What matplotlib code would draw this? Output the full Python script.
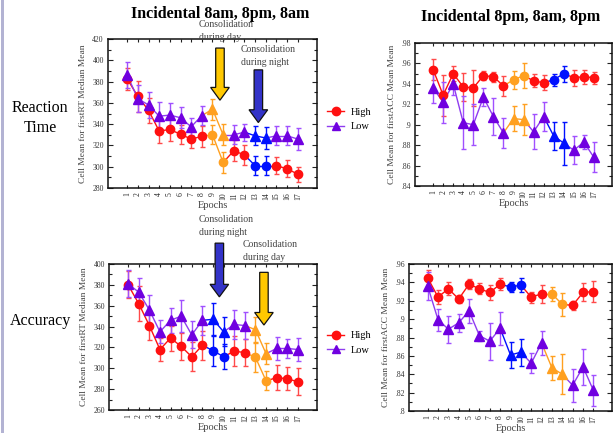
import matplotlib
matplotlib.use("Agg")
import matplotlib.pyplot as plt
import numpy as np
from matplotlib.patches import FancyArrow, Rectangle
from matplotlib.ticker import AutoMinorLocator, FuncFormatter, MultipleLocator
from matplotlib.lines import Line2D

plt.rcParams['font.family'] = ['Liberation Serif', 'DejaVu Serif']

epochs = list(range(1, 18))

# ---- Panel A: Incidental 8am, 8pm, 8am (Reaction time)
rt1_high = [382.5, 366, 353, 333.5, 335, 330.5, 326, 328.5, 330, 304, 315, 311, 301, 301, 301, 298, 293]
rt1_high_err = [10, 15, 12, 11, 11, 9, 8, 10, 9, 10, 10, 9, 9, 9, 8, 8, 7]
rt1_low = [386, 364, 358, 347.5, 348.5, 346, 337.5, 348, 354, 330, 330, 332.5, 329, 327, 329, 329, 326]
rt1_low_err = [12, 13, 12, 13, 11, 10, 8, 9, 10, 10, 9, 8, 9, 10, 9, 9, 10]
rt1_high_tag = ['b'] * 8 + ['o', 'o'] + ['b', 'b'] + ['u', 'u'] + ['b'] * 3
rt1_low_tag = ['b'] * 8 + ['o', 'o'] + ['b', 'b'] + ['u', 'u'] + ['b'] * 3

# ---- Panel B: Incidental 8pm, 8am, 8pm (Accuracy)
acc1_high = [.954, .929, .950, .937, .936, .948, .947, .938, .944, .948, .943, .941, .944, .950, .946, .947, .946]
acc1_high_err = [.010, .020, .0075, .014, .018, .0045, .005, .010, .009, .012, .0065, .0073, .006, .0077, .008, .007, .006]
acc1_low = [.936, .922, .940, .902, .900, .927, .908, .892, .906, .905, .893, .908, .889, .882, .875, .883, .868]
acc1_low_err = [.015, .020, .011, .026, .020, .009, .018, .015, .012, .015, .017, .014, .014, .021, .0135, .007, .0146]
acc1_high_tag = ['b'] * 8 + ['o', 'o'] + ['b', 'b'] + ['u', 'u'] + ['b'] * 3
acc1_low_tag = ['b'] * 8 + ['o', 'o'] + ['b', 'b'] + ['u', 'u'] + ['b'] * 3

# ---- Panel C (bottom left)
rt2_high = [380, 362, 341, 318, 329, 321, 311, 322, 317, 311, 316.5, 315, 310.5, 288, 291, 290, 287]
rt2_high_err = [13, 17, 14, 11, 12, 13, 14, 14, 15, 12, 14, 13, 14, 9, 12, 11, 13]
rt2_low = [381, 373, 356, 335, 346, 350, 332, 346, 347, 335, 342, 341, 337, 314, 319, 319, 318]
rt2_low_err = [13, 14, 14, 11, 12, 15, 13, 14, 16, 14, 14, 13, 12, 10, 11, 9, 11]
rt2_high_tag = ['b'] * 8 + ['u', 'u'] + ['b', 'b'] + ['o', 'o'] + ['b'] * 3
rt2_low_tag = ['b'] * 8 + ['u', 'u'] + ['b', 'b'] + ['o', 'o'] + ['b'] * 3

# ---- Panel D (bottom right)
acc2_high = [.945, .924, .933, .922, .938, .933, .929, .938, .935, .937, .924, .9275, .9275, .916, .915, .929, .930]
acc2_high_err = [.009, .0076, .007, .0044, .0055, .006, .0078, .0066, .0055, .0073, .006, .0095, .008, .0127, .005, .0098, .0116]
acc2_low = [.936, .8995, .889, .896, .909, .882, .876, .890, .861, .864, .852, .874, .847, .840, .828, .848, .8226]
acc2_low_err = [.015, .012, .0146, .0095, .013, .0055, .020, .0177, .0138, .0146, .0106, .0128, .013, .022, .018, .0195, .017]
acc2_high_tag = ['b'] * 8 + ['u', 'u'] + ['b', 'b'] + ['o', 'o'] + ['b'] * 3
acc2_low_tag = ['b'] * 8 + ['u', 'u'] + ['b', 'b'] + ['o', 'o'] + ['b'] * 3

HIGH_C = '#ff1010'
HIGH_E = '#ff4a4a'
LOW_C = '#7000e0'
LOW_L = '#8f3cf0'
LOW_E = '#a050ff'
ORANGE = '#ffa020'
BLUE = '#0010ff'

fig = plt.figure(figsize=(6.14, 4.33), dpi=100)
fig.patch.set_facecolor('white')
fig.add_artist(Rectangle((0.0015, 0), 0.0055, 1, transform=fig.transFigure,
                         facecolor='#b3b3d3', edgecolor='none'))


def fmt_dec(v, pos):
    s = f"{v:.2f}".rstrip('0')
    return s[1:] if s.startswith('0') else s


def draw_series(ax, vals, errs, tags, base_line, base_mark, base_err, marker, ms):
    x = np.array(epochs)
    v = np.array(vals)
    e = np.array(errs)
    cmap_m = {'b': base_mark, 'o': ORANGE, 'u': BLUE}
    cmap_l = {'b': base_line, 'o': ORANGE, 'u': BLUE}
    cmap_e = {'b': base_err, 'o': ORANGE, 'u': BLUE}
    for i in range(len(x) - 1):
        t = tags[i + 1]
        ax.plot(x[i:i + 2], v[i:i + 2], color=cmap_l[t], lw=1.0, zorder=2)
    for t in ['b', 'o', 'u']:
        m = np.array([tg == t for tg in tags])
        if not m.any():
            continue
        ax.errorbar(x[m], v[m], yerr=e[m], fmt='none', ecolor=cmap_e[t],
                    elinewidth=1.0, capsize=1.8, capthick=1.0, zorder=3)
        ax.plot(x[m], v[m], linestyle='none', marker=marker, ms=ms,
                color=cmap_m[t], markeredgecolor=cmap_m[t], zorder=4)


def style_axes(ax, ylim, ystep, dec=False):
    ax.set_xlim(-0.8, 18.8)
    ax.set_ylim(*ylim)
    ax.set_xticks(epochs)
    ax.set_xticklabels([str(e) for e in epochs], rotation=90, fontsize=5.5, color='#333333')
    ax.yaxis.set_major_locator(MultipleLocator(ystep))
    ax.yaxis.set_minor_locator(AutoMinorLocator(2))
    if dec:
        ax.yaxis.set_major_formatter(FuncFormatter(fmt_dec))
    ax.tick_params(axis='both', which='both', direction='in', top=True, right=True,
                   width=0.8, colors='#222222')
    ax.tick_params(axis='y', which='major', length=3.5, labelsize=5.5, labelcolor='#333333', pad=3)
    ax.tick_params(axis='y', which='minor', length=2)
    ax.tick_params(axis='x', which='major', length=2.5, pad=3)
    for sp in ax.spines.values():
        sp.set_linewidth(1.1)
        sp.set_color('#111111')
    ax.set_xlabel('Epochs', fontsize=7.5, color='#444444', labelpad=1)


def arrow(ax, xc, ytop, ybot, color, shaft, head, hlen):
    a = FancyArrow(xc, ytop, 0, ybot - ytop, width=shaft, head_width=head,
                   head_length=hlen, length_includes_head=True,
                   facecolor=color, edgecolor='#111111', lw=0.9, clip_on=False, zorder=6)
    ax.add_patch(a)


def legend(ax, x, y):
    h = [Line2D([], [], color=HIGH_C, marker='o', ms=6, lw=1.0),
         Line2D([], [], color=LOW_L, marker='^', ms=6, lw=1.0, markerfacecolor=LOW_C,
                markeredgecolor=LOW_C)]
    ax.legend(h, ['High', 'Low'], loc='center left', bbox_to_anchor=(x, y),
              frameon=False, fontsize=7.5, handlelength=1.6, handletextpad=0.6,
              labelspacing=0.5, borderaxespad=0)


MS_C = 6.0
MS_T = 6.5

# Panel A
axA = fig.add_axes([108 / 614, 1 - 188 / 433, 209 / 614, 149 / 433])
draw_series(axA, rt1_high, rt1_high_err, rt1_high_tag, HIGH_C, HIGH_C, HIGH_E, 'o', MS_C)
draw_series(axA, rt1_low, rt1_low_err, rt1_low_tag, LOW_L, LOW_C, LOW_E, '^', MS_T)
style_axes(axA, (280, 420), 20)
axA.set_ylabel('Cell Mean for firstRT Median Mean', fontsize=6.8, color='#444444', labelpad=4)
arrow(axA, 9.7, 411.5, 362.5, '#ffc800', 0.8, 1.75, 12)
arrow(axA, 13.3, 391, 341.5, '#3333c8', 0.8, 1.75, 12)
legend(axA, 1.03, 0.46)

# Panel B
axB = fig.add_axes([415 / 614, 1 - 186 / 433, 197 / 614, 143 / 433])
draw_series(axB, acc1_high, acc1_high_err, acc1_high_tag, HIGH_C, HIGH_C, HIGH_E, 'o', MS_C)
draw_series(axB, acc1_low, acc1_low_err, acc1_low_tag, LOW_L, LOW_C, LOW_E, '^', MS_T)
style_axes(axB, (0.84, 0.98), 0.02, dec=True)
axB.set_ylabel('Cell Mean for firstACC Mean Mean', fontsize=6.8, color='#444444', labelpad=4)

# Panel C
axC = fig.add_axes([109 / 614, 1 - 410 / 433, 208 / 614, 146 / 433])
draw_series(axC, rt2_high, rt2_high_err, rt2_high_tag, HIGH_C, HIGH_C, HIGH_E, 'o', MS_C)
draw_series(axC, rt2_low, rt2_low_err, rt2_low_tag, LOW_L, LOW_C, LOW_E, '^', MS_T)
style_axes(axC, (260, 400), 20)
axC.set_ylabel('Cell Mean for firstRT Median Mean', fontsize=6.8, color='#444444', labelpad=4)
arrow(axC, 9.6, 420, 368.5, '#3333c8', 0.8, 1.75, 12)
arrow(axC, 13.8, 392, 341.5, '#ffc800', 0.8, 1.75, 12)
legend(axC, 1.03, 0.46)

# Panel D
axD = fig.add_axes([409 / 614, 1 - 411 / 433, 203 / 614, 147 / 433])
draw_series(axD, acc2_high, acc2_high_err, acc2_high_tag, HIGH_C, HIGH_C, HIGH_E, 'o', MS_C)
draw_series(axD, acc2_low, acc2_low_err, acc2_low_tag, LOW_L, LOW_C, LOW_E, '^', MS_T)
style_axes(axD, (0.80, 0.96), 0.02, dec=True)
axD.set_ylabel('Cell Mean for firstACC Mean Mean', fontsize=6.8, color='#444444', labelpad=4)

# Titles & row labels
fig.text(220 / 614, 1 - 14 / 433, 'Incidental 8am, 8pm, 8am', ha='center', va='center',
         fontsize=11.5, fontweight='bold')
fig.text(511 / 614, 1 - 17 / 433, 'Incidental 8pm, 8am, 8pm', ha='center', va='center',
         fontsize=11.5, fontweight='bold')
fig.text(40 / 614, 1 - 118 / 433, 'Reaction\nTime', ha='center', va='center', fontsize=11.5,
         linespacing=1.35)
fig.text(40 / 614, 1 - 321 / 433, 'Accuracy', ha='center', va='center', fontsize=11.5)

ann = dict(fontsize=7, color='#444444', ha='left', va='center', linespacing=1.45)
fig.text(199 / 614, 1 - 31 / 433, 'Consolidation\nduring day', **ann)
fig.text(241 / 614, 1 - 56 / 433, 'Consolidation\nduring night', **ann)
fig.text(199 / 614, 1 - 226 / 433, 'Consolidation\nduring night', **ann)
fig.text(243 / 614, 1 - 251 / 433, 'Consolidation\nduring day', **ann)

fig.savefig('out.png', dpi=100)
